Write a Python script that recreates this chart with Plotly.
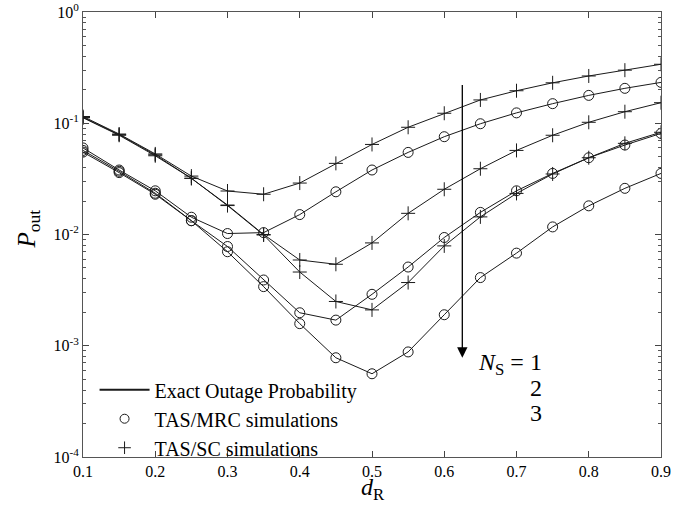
import plotly.graph_objects as go
import numpy as np

d_R = [0.1, 0.15, 0.2, 0.25, 0.3, 0.35, 0.4, 0.45, 0.5, 0.55, 0.6, 0.65, 0.7, 0.75, 0.8, 0.85, 0.9]

sc_ns1 = [0.115, 0.080, 0.053, 0.0335, 0.0246, 0.023, 0.029, 0.0436, 0.0645, 0.092, 0.123, 0.162, 0.196, 0.231, 0.266, 0.30, 0.339]
mrc_ns1 = [0.060, 0.038, 0.0247, 0.0143, 0.0102, 0.0104, 0.0151, 0.0242, 0.038, 0.0547, 0.0757, 0.099, 0.124, 0.150, 0.178, 0.206, 0.233]
sc_ns2 = [0.113, 0.079, 0.052, 0.032, 0.0184, 0.0100, 0.0059, 0.0054, 0.0084, 0.0155, 0.0255, 0.039, 0.057, 0.078, 0.102, 0.127, 0.153]
mrc_ns2 = [0.057, 0.037, 0.0235, 0.0133, 0.0078, 0.0039, 0.00198, 0.0017, 0.0029, 0.0051, 0.0094, 0.0158, 0.0247, 0.0354, 0.049, 0.0637, 0.081]
sc_ns3 = [0.112, 0.078, 0.051, 0.032, 0.0182, 0.0099, 0.0046, 0.0025, 0.0021, 0.0037, 0.0079, 0.0144, 0.0234, 0.035, 0.049, 0.066, 0.083]
mrc_ns3 = [0.055, 0.036, 0.023, 0.0133, 0.0070, 0.0034, 0.00158, 0.00078, 0.00056, 0.00088, 0.0019, 0.0041, 0.0068, 0.0117, 0.0181, 0.026, 0.0354]

x_ticks = [0.1, 0.2, 0.3, 0.4, 0.5, 0.6, 0.7, 0.8, 0.9]
y_tickvals = [1e-4, 1e-3, 1e-2, 1e-1, 1e0]
y_ticktext = ["10<sup>-4</sup>", "10<sup>-3</sup>", "10<sup>-2</sup>", "10<sup>-1</sup>", "10<sup>0</sup>"]

arrow_x = 0.625
arrow_top = 0.228
arrow_bottom = 0.00078

FONT = "Liberation Serif"
LINE_C = "#1a1a1a"

fig = go.Figure()

series = [
    (sc_ns1, "cross-thin"), (mrc_ns1, "circle-open"),
    (sc_ns2, "cross-thin"), (mrc_ns2, "circle-open"),
    (sc_ns3, "cross-thin"), (mrc_ns3, "circle-open"),
]
for vals, sym in series:
    fig.add_trace(go.Scatter(
        x=d_R, y=vals, mode="lines+markers", showlegend=False,
        line=dict(color=LINE_C, width=1),
        marker=dict(symbol=sym, size=10, color=LINE_C, line=dict(width=1, color=LINE_C)),
    ))

# legend entries
fig.add_trace(go.Scatter(x=[None], y=[None], mode="lines", name="Exact Outage Probability",
                         line=dict(color=LINE_C, width=2)))
fig.add_trace(go.Scatter(x=[None], y=[None], mode="markers", name="TAS/MRC simulations",
                         marker=dict(symbol="circle-open", size=9, color=LINE_C, line=dict(width=1, color=LINE_C))))
fig.add_trace(go.Scatter(x=[None], y=[None], mode="markers", name="TAS/SC simulations",
                         marker=dict(symbol="cross-thin", size=9, color=LINE_C, line=dict(width=1, color=LINE_C))))

# arrow
fig.add_annotation(x=arrow_x, y=np.log10(arrow_bottom), ax=arrow_x, ay=np.log10(arrow_top),
                   xref="x", yref="y", axref="x", ayref="y", text="", showarrow=True,
                   arrowhead=2, arrowsize=1.6, arrowwidth=1.3, arrowcolor="black")

# N_S labels
NS_FONT = dict(family=FONT, size=24, color="black")
fig.add_annotation(x=0.797, y=0.21, xref="paper", yref="paper", xanchor="right", yanchor="middle",
                   text="<i>N</i><sub>S</sub> = 1", showarrow=False, font=NS_FONT)
fig.add_annotation(x=0.797, y=0.156, xref="paper", yref="paper", xanchor="right", yanchor="middle",
                   text="2", showarrow=False, font=NS_FONT)
fig.add_annotation(x=0.797, y=0.099, xref="paper", yref="paper", xanchor="right", yanchor="middle",
                   text="3", showarrow=False, font=NS_FONT)

# axis titles
fig.add_annotation(x=-0.125, y=0.512, xref="paper", yref="paper", text="<i>P</i><sub>out</sub>",
                   textangle=-90, showarrow=False, font=dict(family=FONT, size=25, color="black"))
fig.add_annotation(x=0.502, y=-0.072, xref="paper", yref="paper", yanchor="middle", text="<i>d</i><sub>R</sub>",
                   showarrow=False, font=dict(family=FONT, size=24, color="black"))

fig.update_layout(
    width=692, height=507,
    margin=dict(l=83, r=31, t=12, b=50, autoexpand=False),
    paper_bgcolor="white", plot_bgcolor="white",
    font=dict(family=FONT, size=16, color="black"),
    legend=dict(x=0.02, y=0.195, xanchor="left", yanchor="top", bgcolor="rgba(0,0,0,0)",
                font=dict(family=FONT, size=20, color="black"), itemwidth=50, tracegroupgap=0),
)
fig.update_xaxes(range=[0.1, 0.9], tickvals=x_ticks, ticktext=[str(v) for v in x_ticks],
                 ticks="inside", ticklen=6, tickcolor="#444", showline=True, linecolor="#555",
                 linewidth=1, mirror="ticks", showgrid=False, zeroline=False, automargin=False,
                 tickfont=dict(family=FONT, size=16, color="black"))
fig.update_yaxes(type="log", range=[-4, 0], tickvals=y_tickvals, ticktext=y_ticktext,
                 ticks="inside", ticklen=6, tickcolor="#444", showline=True, linecolor="#555",
                 linewidth=1, mirror="ticks", showgrid=False, zeroline=False, automargin=False,
                 tickfont=dict(family=FONT, size=16, color="black"),
                 minor=dict(ticks="inside", ticklen=3, tickcolor="#555", dtick="D1", showgrid=False))

fig.write_html("out.html", config={"displayModeBar": False},
               post_script="document.body.style.margin='0px';")
